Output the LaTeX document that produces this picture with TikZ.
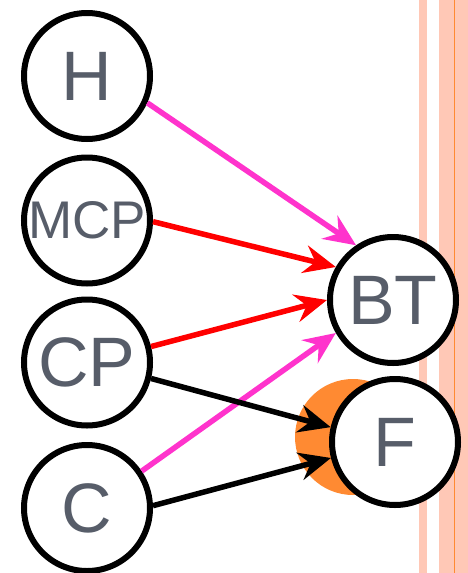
\documentclass[tikz,border=0pt]{standalone}
\usepackage{fontspec}
\setmainfont{Liberation Sans}
\usetikzlibrary{arrows.meta}
\definecolor{textgray}{RGB}{87,93,105}
\definecolor{hotpink}{RGB}{255,51,204}
\definecolor{stripe}{RGB}{255,200,182}
\definecolor{glow}{RGB}{255,138,50}

\tikzset{
  state/.style = {circle, draw=black, line width=6pt, fill=white, minimum size=126pt,
    inner sep=0pt, text=textgray, font=\fontsize{70}{70}\selectfont},
  link/.style = {line width=5.5pt, -{Stealth[length=32pt,width=28pt,inset=11pt]}},
}

\begin{document}
\begin{tikzpicture}[x=1pt, y=-1pt]
\useasboundingbox (0,0) rectangle (468,573);
% stripes at the right edge
\fill[stripe] (419,0) rectangle (427,573);
\fill[stripe] (439,0) rectangle (468,573);
\draw[glow, line width=1.5pt] (454.5,0) -- (454.5,573);
% orange spot behind F
\node [circle, fill=glow, minimum size=116pt, inner sep=0pt] (spot) at (353,437) {};
\node [state] (H) at (87,76) {H};
\node [state, font=\fontsize{53}{53}\selectfont] (MCP) at (87,220.5) {MCP};
\node [state] (CP) at (87,362.5) {CP};
\node [state] (C) at (87,508) {C};
\node [state] (BT) at (393,300) {BT};
\node [state] (F) at (395,442) {F};
\draw [link, hotpink] (H.-24) -- (BT.124);
\draw [link, red] (MCP.-1) -- (BT.150);
\draw [link, red] (CP.14) -- (BT.180);
\draw [link, hotpink] (C.34) -- (BT.210);
\draw [link] (CP.-14) -- (F.167);
\draw [link] (C.2) -- (F.194);
\end{tikzpicture}
\end{document}
